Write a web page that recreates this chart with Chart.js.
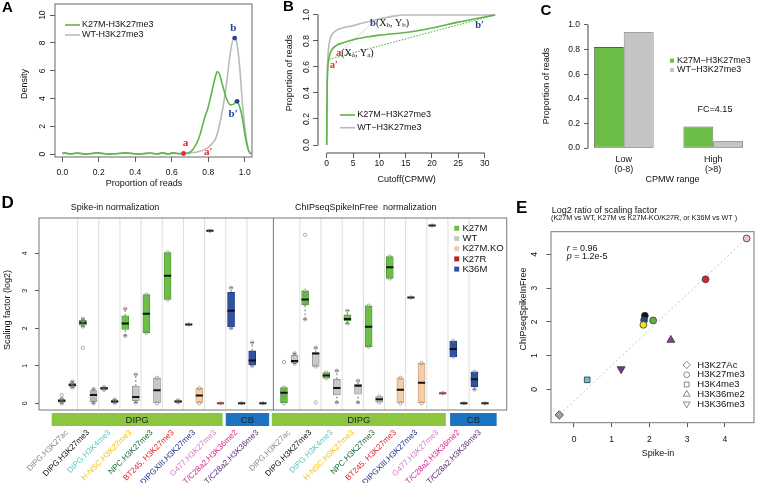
<!DOCTYPE html>
<html>
<head>
<meta charset="utf-8">
<title>Spike-in free scaling factors</title>
<script src="https://cdn.jsdelivr.net/npm/chart.js@4.4.1/dist/chart.umd.min.js"></script>
<style>
  html, body { margin: 0; padding: 0; background: #fff; }
  #page { position: relative; width: 762px; height: 483px; overflow: hidden; }
  #page canvas { position: absolute; left: 0; top: 0; }
</style>
</head>
<body>
<div id="page">
  <canvas id="chartA" width="762" height="483"></canvas>
  <canvas id="chartB" width="762" height="483"></canvas>
  <canvas id="chartC" width="762" height="483"></canvas>
  <canvas id="chartD" width="762" height="483"></canvas>
  <canvas id="chartE" width="762" height="483"></canvas>
</div>
<script>
// ---- A: density of proportion of reads
var aX    = [0, 0.01, 0.045, 0.08, 0.13, 0.19, 0.26, 0.35, 0.42, 0.48, 0.52, 0.55, 0.58, 0.61, 0.64, 0.67, 0.70, 0.72, 0.75, 0.78, 0.80, 0.82, 0.84, 0.85, 0.86, 0.88, 0.90, 0.92, 0.94, 0.955, 0.97, 0.99, 1.00, 1.02, 1.035];
var aK27M = [0.05, 0.10, 0.02, 0.09, 0.01, 0.10, 0.01, 0.10, 0.01, 0.09, 0.02, 0.10, 0.02, 0.10, 0.04, 0.06, 0.15, 0.40, 1.20, 2.60, 3.40, 4.50, 5.60, 5.95, 5.80, 4.90, 4.00, 3.55, 3.60, 3.80, 3.50, 2.40, 1.50, 0.30, 0.00];
var aWT   = [0.04, 0.08, 0.02, 0.08, 0.01, 0.09, 0.01, 0.09, 0.01, 0.08, 0.02, 0.09, 0.02, 0.08, 0.03, 0.05, 0.08, 0.12, 0.20, 0.35, 0.50, 0.75, 1.10, 1.50, 2.00, 3.30, 5.00, 7.20, 8.35, 8.10, 6.60, 3.30, 2.00, 0.35, 0.00];
var aMarkX = [0.665, 0.945, 0.958];
var aMarkY = [0.05, 8.35, 3.8];
var aTicksX = [0, 0.2, 0.4, 0.6, 0.8, 1.0];
var aTicksY = [0, 2, 4, 6, 8, 10];

// ---- B: cumulative proportion vs cutoff
var bWTX   = [0, 0.08, 0.2, 0.4, 0.7, 1, 2, 3, 5, 7, 9, 11, 13, 14.5, 20, 26, 32];
var bWTY   = [0, 0.45, 0.65, 0.76, 0.82, 0.85, 0.885, 0.9, 0.918, 0.94, 0.96, 0.978, 0.993, 1.0, 1.0, 1.0, 1.0];
var bK27MX = [0, 0.08, 0.2, 0.4, 0.7, 1, 2, 3, 5, 7.5, 10, 15, 20, 25, 30, 32];
var bK27MY = [0, 0.4, 0.58, 0.66, 0.71, 0.735, 0.77, 0.785, 0.81, 0.83, 0.845, 0.865, 0.9, 0.945, 0.985, 1.0];
var bChordK27MX = [0.5, 32], bChordK27MY = [0.66, 1.0];
var bChordWTX = [2.2, 8.75], bChordWTY = [0.705, 0.94];
var bTicksX = [0, 5, 10, 15, 20, 25, 30];
var bTicksY = [0, 0.2, 0.4, 0.6, 0.8, 1.0];

// ---- C: proportion of reads by CPMW range
var cRanges = [['Low', '(0-8)'], ['High', '(>8)']];
var cK27M = [0.82, 0.175];
var cWT = [0.94, 0.055];
var cTicksY = [0, 0.2, 0.4, 0.6, 0.8, 1.0];

// ---- D: scaling factor boxes, [min, q1, median, q3, max]
var dNames = ['DIPG.H3K27ac', 'DIPG.H3K27me3', 'DIPG.H3K4me3', 'H-NSC.H3K27me3', 'NPC.H3K27me3', 'BT245. H3K27me3', 'DIPGXIII.H3K27me3', 'G477.H3K27me3', 'T/C28a2.H3K36me2', 'T/C28a2.H3K36me3'];
var dNameColors = ['#8c8c8c', '#111111', '#5ec6c6', '#f2c21b', '#11693a', '#e6222b', '#22308a', '#d27fc0', '#e2218c', '#5b2c83'];
var dSpike = [
  [0.00, 0.03, 0.07, 0.10, 0.12], [0.42, 0.45, 0.49, 0.53, 0.58],
  [2.05, 2.08, 2.15, 2.21, 2.25], [0.00, 0.04, 0.22, 0.34, 0.38],
  [0.36, 0.37, 0.40, 0.42, 0.43], [0.01, 0.03, 0.05, 0.07, 0.10],
  [1.80, 1.97, 2.13, 2.33, 2.52], [0.02, 0.07, 0.17, 0.46, 0.77],
  [1.88, 1.88, 2.39, 2.90, 2.90], [0.00, 0.00, 0.35, 0.68, 0.68],
  [2.77, 2.77, 3.40, 4.02, 4.02], [0.02, 0.03, 0.05, 0.07, 0.08],
  [2.10, 2.10, 2.10, 2.10, 2.10], [0.00, 0.00, 0.21, 0.40, 0.40],
  [4.60, 4.60, 4.60, 4.60, 4.60], [0.00, 0.00, 0.00, 0.00, 0.00],
  [2.00, 2.04, 2.47, 2.96, 3.08], [0.00, 0.00, 0.00, 0.00, 0.00],
  [1.00, 1.02, 1.14, 1.40, 1.62], [0.00, 0.00, 0.00, 0.00, 0.00]
];
var dSpikePts = [[0.22, 0.05], [0.46, 0.52], [1.48, 2.12, 2.2], [0.3, 0.1], [], [], [], [], [], [],
  [], [], [], [], [], [], [], [], [], []];
var dSpikeType = ['K27M', 'WT', 'K27M', 'WT', 'K27M', 'WT', 'K27M', 'WT', 'K27M', 'WT',
  'K27M', 'K27M.KO', 'K27M', 'K27M.KO', 'K27M', 'K27R', 'K36M', 'WT', 'K36M', 'WT'];
var dFree = [
  [0.00, 0.00, 0.28, 0.42, 0.42], [1.06, 1.08, 1.13, 1.28, 1.33],
  [2.24, 2.62, 2.77, 3.00, 3.00], [0.98, 0.98, 1.33, 1.35, 1.48],
  [0.67, 0.67, 0.74, 0.82, 0.82], [0.02, 0.22, 0.41, 0.64, 0.87],
  [2.13, 2.20, 2.25, 2.36, 2.47], [0.02, 0.24, 0.47, 0.51, 0.60],
  [1.51, 1.51, 2.04, 2.60, 2.60], [0.03, 0.03, 0.11, 0.18, 0.18],
  [3.33, 3.33, 3.63, 3.91, 3.91], [0.00, 0.00, 0.36, 0.68, 0.68],
  [2.82, 2.82, 2.82, 2.82, 2.82], [0.00, 0.00, 0.55, 1.07, 1.07],
  [4.74, 4.74, 4.74, 4.74, 4.74], [0.27, 0.27, 0.27, 0.27, 0.27],
  [1.24, 1.24, 1.45, 1.66, 1.66], [0.00, 0.00, 0.00, 0.00, 0.00],
  [0.37, 0.44, 0.64, 0.84, 0.84], [0.00, 0.00, 0.00, 0.00, 0.00]
];
var dFreePts = [[1.1, 0.2], [], [4.49, 2.65, 2.9], [0.02], [], [], [], [], [], [],
  [], [], [], [], [], [], [], [], [], []];
var dFreeType = ['K27M', 'WT', 'K27M', 'WT', 'K27M', 'WT', 'K27M', 'WT', 'K27M', 'WT',
  'K27M', 'K27M.KO', 'K27M', 'K27M.KO', 'K27M', 'K27R', 'K36M', 'WT', 'K36M', 'WT'];
var dLegend = ['K27M', 'WT', 'K27M.KO', 'K27R', 'K36M'];
var dTicksY = [0, 1, 2, 3, 4];

// ---- E: log2 ratio of scaling factors
var eX = [-0.39, 0.35, 1.25, 1.88, 1.86, 1.84, 2.10, 2.57, 3.49, 4.58];
var eY = [-0.76, 0.28, 0.60, 2.18, 2.05, 1.91, 2.04, 1.46, 3.26, 4.47];
var eMark = ['H3K27Ac', 'H3K4me3', 'H3K36me3', 'H3K27me3', 'H3K27me3', 'H3K27me3', 'H3K27me3', 'H3K36me2', 'H3K27me3', 'H3K27me3'];
var eColor = ['#a3a3a3', '#5ec6c6', '#6e3b8e', '#111111', '#27439a', '#f3e21c', '#58b548', '#8a4392', '#e2232b', '#f6bfcc'];
var eFitX = [-0.45, 4.65], eFitY = [-0.82, 4.55];
var eTicks = [0, 1, 2, 3, 4];
var eLegend = ['H3K27Ac', 'H3K27me3', 'H3K4me3', 'H3K36me2', 'H3K36me3'];

// ---------------------------------------------------------------
var FONT = '"Liberation Sans", Arial, Helvetica, sans-serif';
var SERIF = '"Liberation Serif", "Times New Roman", serif';
var W = 762, H = 483;
var RED = '#e3262d', BLUE = '#27409a', GREEN = '#5cb646', GREY = '#bababa';

Chart.defaults.font.family = FONT;
Chart.defaults.font.size = 8.5;
Chart.defaults.color = '#111';
Chart.defaults.animation = false;
Chart.defaults.responsive = false;
Chart.defaults.events = [];
Chart.defaults.plugins.legend.display = false;
Chart.defaults.plugins.tooltip.enabled = false;

function pairs(xs, ys) { return xs.map(function (x, i) { return { x: x, y: ys[i] }; }); }
function pad(area, yW, xH) { return { left: area.l - yW, top: area.t, right: W - area.r, bottom: H - area.b - xH }; }
function fitW(w) { return function (s) { s.width = w; s.paddingTop = 0; s.paddingBottom = 0; }; }
function fitH(h) { return function (s) { s.height = h; s.paddingLeft = 0; s.paddingRight = 0; }; }
function useTicks(vals) { return function (s) { s.ticks = vals.map(function (v) { return { value: v }; }); }; }
function tickMarks(len) { return { display: true, drawOnChartArea: false, drawTicks: true, tickLength: len, color: '#333', lineWidth: 0.8 }; }
function f(size, style) { return (style ? style + ' ' : '') + size + 'px ' + FONT; }
function sf(size, style) { return (style ? style + ' ' : '') + size + 'px ' + SERIF; }
var noGrid = { display: false, drawTicks: false, offset: false };
var noBorder = { display: false };

var framePlugin = {
  id: 'frame',
  beforeDatasetsDraw: function (chart, args, o) {
    var ctx = chart.ctx, a = chart.chartArea;
    ctx.save();
    (o.under || []).forEach(function (v) {
      var x = chart.scales.x.getPixelForValue(v);
      ctx.strokeStyle = o.underColor; ctx.lineWidth = 1;
      ctx.beginPath(); ctx.moveTo(x, a.top); ctx.lineTo(x, a.bottom); ctx.stroke();
    });
    ctx.restore();
  },
  afterDatasetsDraw: function (chart, args, o) {
    var ctx = chart.ctx, a = chart.chartArea;
    ctx.save();
    ctx.strokeStyle = o.color || '#555';
    ctx.lineWidth = 1;
    if (o.box) ctx.strokeRect(a.left, a.top, a.right - a.left, a.bottom - a.top);
    (o.over || []).forEach(function (v) {
      var x = chart.scales.x.getPixelForValue(v);
      ctx.beginPath(); ctx.moveTo(x, a.top); ctx.lineTo(x, a.bottom); ctx.stroke();
    });
    if (o.xSpan) {
      var xs = chart.scales.x, xt = xs.ticks;
      ctx.beginPath();
      ctx.moveTo(xs.getPixelForValue(xt[0].value), a.bottom);
      ctx.lineTo(xs.getPixelForValue(xt[xt.length - 1].value), a.bottom);
      ctx.stroke();
    }
    if (o.ySpan) {
      var ys = chart.scales.y, yt = ys.ticks;
      ctx.beginPath();
      ctx.moveTo(a.left, ys.getPixelForValue(yt[0].value));
      ctx.lineTo(a.left, ys.getPixelForValue(yt[yt.length - 1].value));
      ctx.stroke();
    }
    ctx.restore();
  }
};

// text, legend keys and bands
var notesPlugin = {
  id: 'notes',
  afterDraw: function (chart, args, o) {
    var ctx = chart.ctx;
    (o.bands || []).forEach(function (b) {
      var x0 = chart.scales.x.getPixelForValue(b.from), x1 = chart.scales.x.getPixelForValue(b.to);
      ctx.save();
      ctx.fillStyle = b.color;
      ctx.fillRect(x0, o.bandTop, x1 - x0, o.bandHeight);
      ctx.fillStyle = '#222'; ctx.font = f(9.5); ctx.textAlign = 'center'; ctx.textBaseline = 'middle';
      ctx.fillText(b.label, (x0 + x1) / 2, o.bandTop + o.bandHeight / 2 + 0.5);
      ctx.restore();
    });
    (o.items || []).forEach(function (n) {
      var x = n.x, y = n.y;
      if (n.data) { x = chart.scales.x.getPixelForValue(n.x); y = chart.scales.y.getPixelForValue(n.y); }
      ctx.save();
      ctx.translate(x, y);
      if (n.rot) ctx.rotate(n.rot);
      if (n.kind === 'line') {
        ctx.strokeStyle = n.color; ctx.lineWidth = 1.6;
        ctx.beginPath(); ctx.moveTo(0, 0); ctx.lineTo(n.len, 0); ctx.stroke();
      } else if (n.kind === 'square') {
        ctx.fillStyle = n.color;
        ctx.fillRect(-n.size / 2, -n.size / 2, n.size, n.size);
      } else if (n.kind === 'shape') {
        ctx.strokeStyle = '#7a7a7a'; ctx.fillStyle = 'rgba(0,0,0,0)'; ctx.lineWidth = 0.9;
        Chart.helpers.drawPoint(ctx, { pointStyle: n.style, radius: n.r, rotation: n.rotation || 0, borderWidth: 0.9 }, 0, 0);
      } else {
        var parts = n.parts || [{ t: n.text }];
        ctx.textBaseline = 'middle'; ctx.textAlign = 'left';
        var total = 0;
        parts.forEach(function (p) { ctx.font = p.font || n.font || f(9); total += ctx.measureText(p.t).width; });
        var cx = n.align === 'center' ? -total / 2 : (n.align === 'right' ? -total : 0);
        parts.forEach(function (p) {
          ctx.font = p.font || n.font || f(9);
          ctx.fillStyle = p.color || n.color || '#111';
          ctx.fillText(p.t, cx, p.dy || 0);
          cx += ctx.measureText(p.t).width;
        });
      }
      ctx.restore();
    });
  }
};

// ---------------- panel A ----------------
var areaA = { l: 55, t: 4, r: 252, b: 157 };
new Chart(document.getElementById('chartA'), {
  type: 'line',
  data: {
    datasets: [
      { type: 'scatter', data: pairs(aMarkX, aMarkY), pointRadius: 2.4, pointBackgroundColor: [RED, BLUE, BLUE], pointBorderWidth: 0 },
      { data: pairs(aX, aK27M), borderColor: GREEN, borderWidth: 1.6, pointRadius: 0, cubicInterpolationMode: 'monotone' },
      { data: pairs(aX, aWT), borderColor: GREY, borderWidth: 1.6, pointRadius: 0, cubicInterpolationMode: 'monotone' }
    ]
  },
  options: {
    layout: { padding: pad(areaA, 20, 22) },
    scales: {
      x: { type: 'linear', bounds: 'data', min: -0.04, max: 1.04, afterBuildTicks: useTicks(aTicksX), afterFit: fitH(22),
           grid: tickMarks(5), border: noBorder,
           ticks: { padding: 6, callback: function (v) { return v.toFixed(1); } } },
      y: { type: 'linear', bounds: 'data', min: -0.2, max: 10.8, afterBuildTicks: useTicks(aTicksY), afterFit: fitW(20),
           grid: tickMarks(5), border: noBorder,
           ticks: { padding: 2.3, minRotation: 90, maxRotation: 90, crossAlign: 'center' } }
    },
    plugins: {
      frame: { box: true, color: '#666' },
      notes: { items: [
        { x: 2, y: 8, text: 'A', font: f(15, 'bold'), color: '#000' },
        { x: 144, y: 183.3, text: 'Proportion of reads', align: 'center' },
        { x: 25, y: 84, text: 'Density', align: 'center', rot: -Math.PI / 2 },
        { kind: 'line', x: 65, y: 25, len: 15, color: GREEN },
        { x: 82, y: 25, text: 'K27M-H3K27me3' },
        { kind: 'line', x: 65, y: 35, len: 15, color: GREY },
        { x: 82, y: 35, text: 'WT-H3K27me3' },
        { data: true, x: 0.676, y: 0.78, text: 'a', align: 'center', font: sf(11, 'bold'), color: RED },
        { data: true, x: 0.8, y: 0.12, text: 'a\u2032', align: 'center', font: sf(11, 'bold'), color: RED },
        { data: true, x: 0.937, y: 9.05, text: 'b', align: 'center', font: sf(11, 'bold'), color: BLUE },
        { data: true, x: 0.937, y: 2.9, text: 'b\u2032', align: 'center', font: sf(11, 'bold'), color: BLUE }
      ] }
    }
  },
  plugins: [framePlugin, notesPlugin]
});

// ---------------- panel B ----------------
var areaB = { l: 318, t: 9, r: 502, b: 153 };
new Chart(document.getElementById('chartB'), {
  type: 'line',
  data: {
    datasets: [
      { data: pairs(bK27MX, bK27MY), borderColor: GREEN, borderWidth: 1.6, pointRadius: 0, cubicInterpolationMode: 'monotone' },
      { data: pairs(bWTX, bWTY), borderColor: GREY, borderWidth: 1.6, pointRadius: 0, cubicInterpolationMode: 'monotone' },
      { data: pairs(bChordK27MX, bChordK27MY), borderColor: GREEN, borderWidth: 1.1, borderDash: [1.5, 1.5], pointRadius: 0 },
      { data: pairs(bChordWTX, bChordWTY), borderColor: '#9a9a9a', borderWidth: 0.8, borderDash: [1.5, 1.5], pointRadius: 0 }
    ]
  },
  options: {
    layout: { padding: pad(areaB, 20, 20) },
    scales: {
      x: { type: 'linear', bounds: 'data', min: -1.65, max: 33.3, afterBuildTicks: useTicks(bTicksX), afterFit: fitH(20),
           grid: tickMarks(5), border: noBorder, ticks: { padding: 0.5 } },
      y: { type: 'linear', bounds: 'data', min: -0.0615, max: 1.046, afterBuildTicks: useTicks(bTicksY), afterFit: fitW(20),
           grid: tickMarks(5), border: noBorder,
           ticks: { padding: 0.5, minRotation: 90, maxRotation: 90, crossAlign: 'center', callback: function (v) { return v.toFixed(1); } } }
    },
    plugins: {
      frame: { xSpan: true, ySpan: true, color: '#444' },
      notes: { items: [
        { x: 283, y: 7, text: 'B', font: f(15, 'bold'), color: '#000' },
        { x: 406.7, y: 180, text: 'Cutoff(CPMW)', align: 'center' },
        { x: 290, y: 73, text: 'Proportion of reads', align: 'center', rot: -Math.PI / 2 },
        { kind: 'line', x: 340, y: 115, len: 15, color: GREEN },
        { x: 357.3, y: 115, text: 'K27M\u2212H3K27me3' },
        { kind: 'line', x: 340, y: 127.7, len: 15, color: GREY },
        { x: 357.3, y: 127.7, text: 'WT\u2212H3K27me3' },
        { data: true, x: 1.77, y: 0.705, parts: [
          { t: 'a', font: sf(10.5, 'bold'), color: RED }, { t: '(X', font: sf(10) }, { t: 'a', font: sf(7), dy: 2 },
          { t: ', Y', font: sf(10) }, { t: 'a', font: sf(7), dy: 2 }, { t: ')', font: sf(10) }] },
        { data: true, x: 8.24, y: 0.936, parts: [
          { t: 'b', font: sf(10.5, 'bold'), color: BLUE }, { t: '(X', font: sf(10) }, { t: 'b', font: sf(7), dy: 2 },
          { t: ', Y', font: sf(10) }, { t: 'b', font: sf(7), dy: 2 }, { t: ')', font: sf(10) }] },
        { data: true, x: 0.6, y: 0.615, text: 'a\u2032', font: sf(10.5, 'bold'), color: RED },
        { data: true, x: 28.2, y: 0.923, text: 'b\u2032', font: sf(10.5, 'bold'), color: BLUE }
      ] }
    }
  },
  plugins: [framePlugin, notesPlugin]
});

// ---------------- panel C ----------------
var areaC = { l: 588, t: 20, r: 749, b: 153 };
new Chart(document.getElementById('chartC'), {
  type: 'bar',
  data: {
    datasets: [
      { data: cK27M.map(function (v, i) { return { x: 2 + 3 * i, y: v }; }), backgroundColor: '#6cbd47', borderColor: '#5a5a5a', borderWidth: 0.8, borderSkipped: false },
      { data: cWT.map(function (v, i) { return { x: 2 + 3 * i, y: v }; }), backgroundColor: '#c4c4c4', borderColor: '#5a5a5a', borderWidth: 0.8, borderSkipped: false }
    ]
  },
  options: {
    categoryPercentage: 2 / 3,
    barPercentage: 1,
    layout: { padding: pad(areaC, 30, 30) },
    scales: {
      x: { type: 'linear', offset: false, bounds: 'data', min: 0.8, max: 6.2, afterBuildTicks: useTicks([2, 5]), afterFit: fitH(30),
           grid: noGrid, border: noBorder,
           ticks: { padding: 2, font: { size: 9, lineHeight: 1.1 }, callback: function (v, i) { return cRanges[i]; } } },
      y: { type: 'linear', bounds: 'data', min: -0.04, max: 1.04, afterBuildTicks: useTicks(cTicksY), afterFit: fitW(30),
           grid: tickMarks(4), border: noBorder,
           ticks: { padding: 4, callback: function (v) { return v.toFixed(1); } } }
    },
    plugins: {
      frame: { ySpan: true, color: '#444' },
      notes: { items: [
        { x: 540.5, y: 11, text: 'C', font: f(15, 'bold'), color: '#000' },
        { x: 672.5, y: 180, text: 'CPMW range', align: 'center' },
        { x: 546.7, y: 86, text: 'Proportion of reads', align: 'center', rot: -Math.PI / 2 },
        { kind: 'square', x: 672, y: 60.7, size: 4, color: '#6cbd47' },
        { x: 677, y: 60.7, text: 'K27M\u2212H3K27me3' },
        { kind: 'square', x: 672, y: 70, size: 4, color: '#c4c4c4' },
        { x: 677, y: 70, text: 'WT\u2212H3K27me3' },
        { x: 715, y: 110, text: 'FC=4.15', align: 'center' }
      ] }
    }
  },
  plugins: [framePlugin, notesPlugin]
});

// ---------------- panel D ----------------
var dColors = {
  'K27M': ['#6dbf4a', '#4a9433'], 'WT': ['#c9c9c9', '#8a8a8a'], 'K27M.KO': ['#f4cdaa', '#c69a76'],
  'K27R': ['#b3262b', '#7d1519'], 'K36M': ['#2f52a2', '#1d377a']
};
var boxData = [], boxFill = [], boxLine = [], medData = [], medColor = [], whisk = [], caps = [], dots = [];
[[dSpike, dSpikePts, dSpikeType, 0], [dFree, dFreePts, dFreeType, 21]].forEach(function (half) {
  half[0].forEach(function (b, i) {
    var x = half[3] + i, t = half[2][i];
    if (b[3] > b[1]) { boxData.push({ x: x, y: [b[1], b[3]] }); boxFill.push(dColors[t][0]); boxLine.push(dColors[t][1]); }
    medData.push({ x: x, y: b[2] });
    medColor.push(t === 'K27R' ? dColors[t][0] : '#111');
    if (b[0] < b[1]) { whisk.push({ x: x, y: b[0] }, { x: x, y: b[1] }, { x: x, y: null }); caps.push({ x: x, y: b[0] }); }
    if (b[4] > b[3]) { whisk.push({ x: x, y: b[3] }, { x: x, y: b[4] }, { x: x, y: null }); caps.push({ x: x, y: b[4] }); }
    var vals = b[0] === b[4] ? [b[2]] : [b[0], b[4]];
    vals.concat(half[1][i]).forEach(function (v) { dots.push({ x: x, y: v }); });
  });
});
var dTickPos = [];
[0, 21].forEach(function (off) { dNames.forEach(function (n, g) { dTickPos.push(off + 2 * g + 0.5); }); });
var dGrid = [];
[0, 21].forEach(function (off) { for (var g = 1; g < dNames.length; g++) dGrid.push(off + 2 * g - 0.5); });

var areaD = { l: 39, t: 218, r: 506.7, b: 410 };
var dLegendItems = [];
dLegend.forEach(function (k, i) {
  var yy = 228.3 + i * 10.2;
  dLegendItems.push({ kind: 'square', x: 456.7, y: yy, size: 5, color: dColors[k][0] });
  dLegendItems.push({ x: 462.5, y: yy, text: k, font: f(9.5) });
});
new Chart(document.getElementById('chartD'), {
  type: 'bar',
  data: {
    datasets: [
      { type: 'scatter', order: 0, data: dots, pointRadius: 1.7, pointBorderWidth: 0.6, pointBorderColor: '#7a7a7a', pointBackgroundColor: 'rgba(255,255,255,0)' },
      { type: 'scatter', order: 1, data: medData, pointStyle: 'line', pointRadius: 3.6, pointBorderWidth: 2, pointBorderColor: medColor },
      { type: 'bar', order: 2, data: boxData, backgroundColor: boxFill, borderColor: boxLine, borderWidth: 0.8, borderSkipped: false, barThickness: 7 },
      { type: 'scatter', order: 3, data: caps, pointStyle: 'line', pointRadius: 1.8, pointBorderWidth: 0.8, pointBorderColor: '#555' },
      { type: 'line', order: 4, data: whisk, borderColor: '#555', borderWidth: 0.8, borderDash: [2, 2], pointRadius: 0, spanGaps: false }
    ]
  },
  options: {
    layout: { padding: pad(areaD, 20, 73) },
    scales: {
      x: { type: 'linear', offset: false, bounds: 'data', min: -2.15, max: 42.05, afterBuildTicks: useTicks(dTickPos), afterFit: fitH(73),
           grid: noGrid, border: noBorder,
           ticks: { autoSkip: false, minRotation: 45, maxRotation: 45, padding: 18, font: { size: 8 },
                    color: function (c) { return dNameColors[c.index % 10]; },
                    callback: function (v, i) { return dNames[i % 10]; } } },
      y: { type: 'linear', bounds: 'data', min: -0.179, max: 4.94, afterBuildTicks: useTicks(dTicksY), afterFit: fitW(20),
           grid: tickMarks(4), border: noBorder,
           ticks: { padding: 8, font: { size: 7 }, minRotation: 90, maxRotation: 90, crossAlign: 'center' } }
    },
    plugins: {
      frame: { box: true, color: '#777', under: dGrid, underColor: '#dedede', over: [20] },
      notes: {
        bandTop: 413, bandHeight: 13,
        bands: [
          { label: 'DIPG', from: -0.95, to: 15.2, color: '#8cc63f' },
          { label: 'CB', from: 15.5, to: 19.6, color: '#1a74c0' },
          { label: 'DIPG', from: 19.85, to: 36.3, color: '#8cc63f' },
          { label: 'CB', from: 36.7, to: 41.1, color: '#1a74c0' }
        ],
        items: [
          { x: 1.5, y: 203, text: 'D', font: f(17, 'bold'), color: '#000' },
          { x: 115, y: 208, text: 'Spike-in normalization', align: 'center' },
          { x: 295, y: 208, text: 'ChIPseqSpikeInFree  normalization' },
          { x: 8, y: 310, text: 'Scaling factor (log2)', align: 'center', rot: -Math.PI / 2 }
        ].concat(dLegendItems)
      }
    }
  },
  plugins: [framePlugin, notesPlugin]
});

// ---------------- panel E ----------------
var eStyles = { 'H3K27Ac': ['rectRot', 0, 4.2], 'H3K27me3': ['circle', 0, 3.4], 'H3K4me3': ['rect', 0, 4], 'H3K36me2': ['triangle', 0, 4.6], 'H3K36me3': ['triangle', 180, 4.6] };
var areaE = { l: 551, t: 231.7, r: 754, b: 422.7 };
var eLegendItems = [];
eLegend.forEach(function (k, i) {
  var yy = 365 + i * 9.75;
  eLegendItems.push({ kind: 'shape', x: 686.7, y: yy, style: eStyles[k][0], rotation: eStyles[k][1], r: eStyles[k][2] * 0.85 });
  eLegendItems.push({ x: 697.3, y: yy, text: k, font: f(9.5) });
});
new Chart(document.getElementById('chartE'), {
  type: 'scatter',
  data: {
    datasets: [
      { data: pairs(eX, eY),
        pointStyle: eMark.map(function (m) { return eStyles[m][0]; }),
        pointRotation: eMark.map(function (m) { return eStyles[m][1]; }),
        pointRadius: eMark.map(function (m) { return eStyles[m][2]; }),
        pointBackgroundColor: eColor, pointBorderColor: '#333', pointBorderWidth: 0.8 },
      { type: 'line', data: pairs(eFitX, eFitY), borderColor: '#c4c4c4', borderWidth: 1, borderDash: [2, 2.5], pointRadius: 0 }
    ]
  },
  options: {
    layout: { padding: pad(areaE, 20, 20) },
    scales: {
      x: { type: 'linear', bounds: 'data', min: -0.61, max: 4.775, afterBuildTicks: useTicks(eTicks), afterFit: fitH(20),
           grid: tickMarks(4.5), border: noBorder, ticks: { padding: 7 } },
      y: { type: 'linear', bounds: 'data', min: -0.99, max: 4.67, afterBuildTicks: useTicks(eTicks), afterFit: fitW(20),
           grid: tickMarks(4.5), border: noBorder,
           ticks: { padding: 9, minRotation: 90, maxRotation: 90, crossAlign: 'center' } }
    },
    plugins: {
      frame: { box: true, color: '#777' },
      notes: { items: [
        { x: 516, y: 208.5, text: 'E', font: f(17, 'bold'), color: '#000' },
        { x: 551.7, y: 210.7, text: 'Log2 ratio of scaling factor', font: f(9) },
        { x: 551, y: 218.3, text: '(K27M vs WT, K27M vs K27M-KO/K27R, or K36M vs WT )', font: f(7.2) },
        { x: 658, y: 453.3, text: 'Spike-in', align: 'center' },
        { x: 524, y: 309, text: 'ChIPseqSpikeInFree', align: 'center', rot: -Math.PI / 2 },
        { x: 566.7, y: 248.3, parts: [{ t: 'r', font: f(9, 'italic') }, { t: ' = 0.96', font: f(9) }] },
        { x: 566.7, y: 256.7, parts: [{ t: 'p', font: f(9, 'italic') }, { t: ' = 1.2e-5', font: f(9) }] }
      ].concat(eLegendItems) }
    }
  },
  plugins: [framePlugin, notesPlugin]
});
</script>
</body>
</html>
